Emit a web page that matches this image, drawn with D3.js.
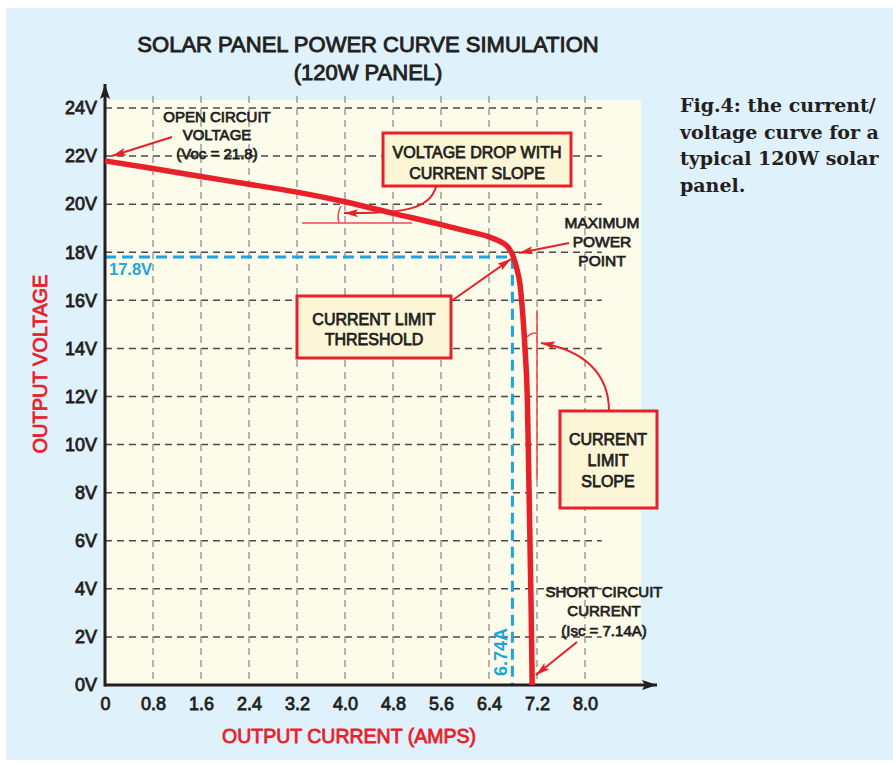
<!DOCTYPE html>
<html>
<head>
<meta charset="utf-8">
<script src="https://cdn.jsdelivr.net/npm/d3@7"></script>
<style>
body { margin: 0; background: #fff; }
svg text { font-family: 'Liberation Sans', Arial, sans-serif; }
svg text.caption { font-family: 'DejaVu Serif', serif; }
</style>
</head>
<body>
<script>

// I/V curve (amps, volts)
const amps  = [0, 0.8, 1.6, 2.4, 3.2, 4.0, 4.8, 5.6, 6.0, 6.4, 6.6, 6.72, 6.8, 6.86, 6.92, 6.96, 7.0, 7.04, 7.07, 7.1, 7.12];
const volts = [21.8, 21.48, 21.15, 20.83, 20.5, 20.1, 19.62, 19.15, 18.9, 18.64, 18.43, 18.2, 17.85, 17.35, 16.6, 15.5, 14.0, 11.8, 7.7, 3.5, 0];

const xTicks = [0, 0.8, 1.6, 2.4, 3.2, 4.0, 4.8, 5.6, 6.4, 7.2, 8.0];
const xTickLabels = ["0", "0.8", "1.6", "2.4", "3.2", "4.0", "4.8", "5.6", "6.4", "7.2", "8.0"];
const yTicks = [0, 2, 4, 6, 8, 10, 12, 14, 16, 18, 20, 22, 24];
const yTickLabels = ["0V", "2V", "4V", "6V", "8V", "10V", "12V", "14V", "16V", "18V", "20V", "22V", "24V"];

// maximum power point (drawn position / printed labels)
const mppAmps = 6.79, mppVolts = 17.8;
const mppAmpsLabel = "6.74A", mppVoltsLabel = "17.8V";

const RED = "#e8202a", INK = "#231f20", BLUE = "#1ba4de";

const width = 893, height = 765;

const x = d3.scaleLinear().domain([0, 8]).range([105, 585]);
const y = d3.scaleLinear().domain([0, 24]).range([685, 108]);

const svg = d3.select("body").append("svg")
    .attr("width", width)
    .attr("height", height);

const defs = svg.append("defs");
function marker(id, color, len, wid) {
    defs.append("marker")
        .attr("id", id)
        .attr("markerUnits", "userSpaceOnUse")
        .attr("viewBox", `0 0 ${len} ${wid}`)
        .attr("refX", len).attr("refY", wid / 2)
        .attr("markerWidth", len).attr("markerHeight", wid)
        .attr("orient", "auto")
      .append("path")
        .attr("d", `M0,0 L${len},${wid / 2} L0,${wid} L${len * 0.2},${wid / 2} Z`)
        .attr("fill", color);
}
marker("redArrow", RED, 14, 8);
marker("inkArrow", INK, 15, 10);

// page + panel backgrounds
svg.append("rect").attr("width", width).attr("height", height).attr("fill", "#fff");
svg.append("rect").attr("x", 6).attr("y", 8).attr("width", width - 6).attr("height", 752).attr("fill", "#dff1fb");
svg.append("rect").attr("x", x(0)).attr("y", 100).attr("width", 641 - x(0)).attr("height", y(0) - 100).attr("fill", "#fdfbea");

// title
const title = svg.append("text")
    .attr("x", 368).attr("text-anchor", "middle")
    .attr("font-size", 22).attr("fill", INK)
    .attr("stroke", INK).attr("stroke-width", 0.9);
title.append("tspan").attr("x", 368).attr("y", 52).text("SOLAR PANEL POWER CURVE SIMULATION");
title.append("tspan").attr("x", 368).attr("y", 80).text("(120W PANEL)");

// grid
const grid = svg.append("g");
grid.selectAll("line.h")
  .data(yTicks.filter(d => d > 0))
  .join("line")
    .attr("class", "h")
    .attr("x1", x(0)).attr("x2", x(8.28))
    .attr("y1", d => y(d)).attr("y2", d => y(d))
    .attr("stroke", "#4a4a4a").attr("stroke-width", 1.5)
    .attr("stroke-dasharray", "7,5");
grid.selectAll("line.v")
  .data(xTicks.filter(d => d > 0))
  .join("line")
    .attr("class", "v")
    .attr("x1", d => x(d)).attr("x2", d => x(d))
    .attr("y1", y(24.5)).attr("y2", y(0))
    .attr("stroke", "#9c9c9c").attr("stroke-width", 1.5)
    .attr("stroke-dasharray", "7,5");

// max power point guides
svg.append("path")
    .attr("d", `M${x(0)},${y(mppVolts)} H${x(mppAmps)} V${y(0)}`)
    .attr("fill", "none")
    .attr("stroke", BLUE).attr("stroke-width", 3)
    .attr("stroke-dasharray", "11,6");
svg.append("text")
    .attr("x", x(0) + 4).attr("y", y(mppVolts) + 18)
    .attr("font-size", 16.5).attr("font-weight", "bold").attr("fill", BLUE)
    .text(mppVoltsLabel);
svg.append("text")
    .attr("transform", `translate(${x(mppAmps) - 5},${y(0) - 9}) rotate(-90)`)
    .attr("font-size", 18).attr("font-weight", "bold").attr("fill", BLUE)
    .text(mppAmpsLabel);

// axes
const xAxis = d3.axisBottom(x)
    .tickValues(xTicks)
    .tickFormat((d, i) => xTickLabels[i])
    .tickSize(0).tickPadding(12);
const yAxis = d3.axisLeft(y)
    .tickValues(yTicks)
    .tickFormat((d, i) => yTickLabels[i])
    .tickSize(0).tickPadding(8);

svg.append("g")
    .attr("transform", `translate(0,${y(0)})`)
    .call(xAxis)
    .call(g => g.select(".domain").remove())
    .selectAll("text")
      .attr("font-size", 18).attr("fill", INK)
      .attr("stroke", INK).attr("stroke-width", 0.8);

svg.append("g")
    .attr("transform", `translate(${x(0)},0)`)
    .call(yAxis)
    .call(g => g.select(".domain").remove())
    .selectAll("text")
      .attr("font-size", 18).attr("fill", INK)
      .attr("stroke", INK).attr("stroke-width", 0.8);

svg.append("line")
    .attr("x1", x(0)).attr("x2", 657)
    .attr("y1", y(0)).attr("y2", y(0))
    .attr("stroke", INK).attr("stroke-width", 3)
    .attr("marker-end", "url(#inkArrow)");
svg.append("line")
    .attr("x1", x(0)).attr("x2", x(0))
    .attr("y1", y(0) + 1.5).attr("y2", 84)
    .attr("stroke", INK).attr("stroke-width", 3)
    .attr("marker-end", "url(#inkArrow)");

// axis titles
svg.append("text")
    .attr("x", 349).attr("y", 743)
    .attr("text-anchor", "middle")
    .attr("font-size", 19.5).attr("fill", RED)
    .attr("stroke", RED).attr("stroke-width", 0.8)
    .text("OUTPUT CURRENT (AMPS)");
svg.append("text")
    .attr("transform", "translate(47,364) rotate(-90)")
    .attr("text-anchor", "middle")
    .attr("font-size", 20).attr("fill", RED)
    .attr("stroke", RED).attr("stroke-width", 0.8)
    .text("OUTPUT VOLTAGE");

// the I/V curve
const curveData = amps.map((a, i) => ({ a, v: volts[i] }));
const line = d3.line()
    .x(d => x(d.a))
    .y(d => y(d.v))
    .curve(d3.curveMonotoneX);
svg.append("path")
    .datum(curveData)
    .attr("d", line)
    .attr("fill", "none")
    .attr("stroke", RED).attr("stroke-width", 5.5)
    .attr("stroke-linejoin", "round");

// ---- callouts ----
const notes = svg.append("g");

function label(lines, cx, baselines, size) {
    const t = notes.append("text")
        .attr("text-anchor", "middle")
        .attr("font-size", size).attr("fill", INK)
        .attr("stroke", INK).attr("stroke-width", 0.75);
    lines.forEach((s, i) => t.append("tspan").attr("x", cx).attr("y", baselines[i]).text(s));
}
function box(x0, y0, x1, y1) {
    notes.append("rect")
        .attr("x", x0).attr("y", y0)
        .attr("width", x1 - x0).attr("height", y1 - y0)
        .attr("fill", "#fcf6d6")
        .attr("stroke", RED).attr("stroke-width", 3);
}
function arrow(d, w) {
    notes.append("path")
        .attr("d", d)
        .attr("fill", "none")
        .attr("stroke", RED).attr("stroke-width", w || 2)
        .attr("marker-end", "url(#redArrow)");
}
function thin(d) {
    notes.append("path")
        .attr("d", d)
        .attr("fill", "none")
        .attr("stroke", "#ee4a4f").attr("stroke-width", 1.5);
}

// open circuit voltage
label(["OPEN CIRCUIT", "VOLTAGE", "(Voc = 21.8)"], 217, [122, 140, 159], 15);
arrow("M172,137 L112,156");

// voltage drop with current slope
thin("M302,223 H412");
thin("M339,223 A22,22 0 0,1 341,206");
arrow("M436,187 C430,207 410,214 344,213");
box(383, 133, 571, 186);
label(["VOLTAGE DROP WITH", "CURRENT SLOPE"], 477, [158, 179], 16);

// maximum power point
label(["MAXIMUM", "POWER", "POINT"], 602, [228, 247, 266], 15.5);
arrow("M569,243 L519,253");

// current limit threshold
arrow("M450,302 L511,259");
box(297, 296, 451, 358);
label(["CURRENT LIMIT", "THRESHOLD"], 374, [325, 345], 16);

// current limit slope
thin("M537,310 V480");
thin("M527,337 A12,12 0 0,1 537,333");
arrow("M609,411 C609,372 582,350 541,343");
box(560, 411, 657, 508);
label(["CURRENT", "LIMIT", "SLOPE"], 608, [445, 466, 487], 16);

// short circuit current
label(["SHORT CIRCUIT", "CURRENT", "(Isc = 7.14A)"], 604, [597, 616, 636], 15);
arrow("M577,642 L536,675");

// figure caption
const cap = svg.append("text")
    .attr("class", "caption")
    .attr("font-weight", "bold")
    .attr("font-size", 19)
    .attr("fill", INK);
["Fig.4: the current/", "voltage curve for a", "typical 120W solar", "panel."].forEach((s, i) =>
    cap.append("tspan").attr("x", 680).attr("y", 112 + i * 26.5).text(s));

</script>
</body>
</html>
